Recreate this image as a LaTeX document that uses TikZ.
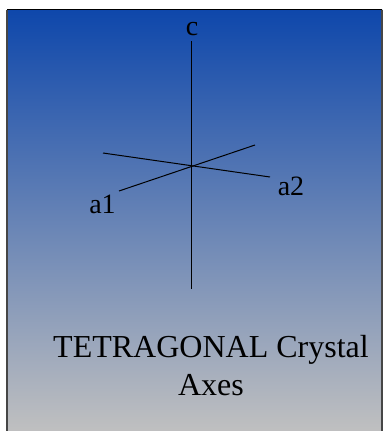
\documentclass[tikz,border=0pt]{standalone}
\usepackage{fontspec}
\setmainfont{Liberation Serif}
\definecolor{topblue}{RGB}{14,71,171}
\definecolor{midblue}{RGB}{126,131,178}
\definecolor{botgray}{RGB}{192,192,192}
\definecolor{framegray}{RGB}{70,70,70}
\begin{document}
\begin{tikzpicture}[x=1pt,y=-1pt,
  axis/.style={draw=black,line width=1pt},
  lbl/.style={inner sep=0pt,font=\fontsize{28}{32}\selectfont,anchor=base},
  ttl/.style={inner sep=0pt,font=\fontsize{32}{38}\selectfont,align=center,anchor=base}]
\useasboundingbox (0,0) rectangle (383,431);
\shade[top color=topblue,middle color=midblue,bottom color=botgray] (7,9) rectangle (382,432);
\draw[framegray,line width=1.5pt] (7,432) -- (7,9.5);
\draw[black,line width=1pt] (7,9.5) -- (382,9.5);
\draw[framegray,line width=1.5pt] (382,9.5) -- (382,432);
\coordinate (O) at (191,166);
\coordinate (ctop) at (191,41);
\coordinate (cbot) at (191,289);
\coordinate (p1) at (103,153);
\coordinate (p2) at (270,177);
\coordinate (q1) at (119,191);
\coordinate (q2) at (255,145);
\draw[axis] (ctop) -- (cbot);
\draw[axis] (p1) -- (p2);
\draw[axis] (q1) -- (q2);
\node[lbl] (c) at (192,35) {c};
\node[lbl] (a1) at (102.5,213) {a1};
\node[lbl] (a2) at (291,195) {a2};
\node[ttl] (title) at (211,395) {TETRAGONAL Crystal\\Axes};
\end{tikzpicture}
\end{document}
